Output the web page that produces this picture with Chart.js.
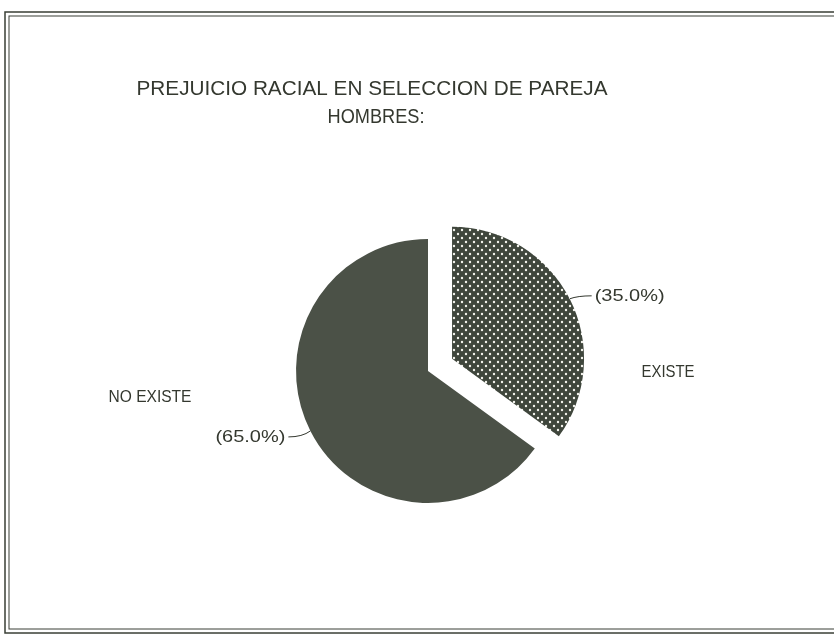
<!DOCTYPE html>
<html>
<head>
<meta charset="utf-8">
<script src="https://cdn.jsdelivr.net/npm/chart.js@4.4.1/dist/chart.umd.min.js"></script>
<style>
  html, body { margin: 0; padding: 0; background: #fff; }
  #wrap { width: 834px; height: 636px; position: relative; }
</style>
</head>
<body>
<div id="wrap"><canvas id="grafico"></canvas></div>
<script>
// ===============================
// DATOS
// ===============================
const categorias = ["EXISTE", "NO EXISTE"];
const porcentajes = [35.0, 65.0];
const separacion = [27, 0]; // sector destacado
const titulo = ["PREJUICIO RACIAL EN SELECCION DE PAREJA", "HOMBRES:"];

const tinta = "#34382f";
const gris = "#4b5147";

// trama de puntos para EXISTE
function crearTrama() {
  const c = document.createElement("canvas");
  c.width = 8;
  c.height = 8;
  const g = c.getContext("2d");
  g.fillStyle = "#3f463c";
  g.fillRect(0, 0, 8, 8);
  g.fillStyle = "#f4f4ee";
  [[2, 2], [6, 6]].forEach(([x, y]) => {
    g.beginPath();
    g.arc(x, y, 1.2, 0, Math.PI * 2);
    g.fill();
  });
  return g.createPattern(c, "repeat");
}

// texto ajustado a un ancho dado (letra de plotter, estrecha)
function texto(ctx, str, cx, cy, size, ancho) {
  ctx.save();
  ctx.font = `${size}px "Liberation Sans", Arial, sans-serif`;
  ctx.textAlign = "center";
  ctx.textBaseline = "middle";
  const w = ctx.measureText(str).width;
  const sx = ancho ? ancho / w : 1;
  ctx.translate(cx, cy);
  ctx.scale(sx, 1);
  ctx.fillStyle = tinta;
  ctx.fillText(str, 0, 0);
  ctx.restore();
}

// ===============================
// PLUGIN: marco, título y rótulos
// ===============================
const anotaciones = {
  id: "anotaciones",
  beforeDraw(chart) {
    const ctx = chart.ctx;
    ctx.save();
    ctx.fillStyle = "#fff";
    ctx.fillRect(0, 0, chart.width, chart.height);
    ctx.strokeStyle = "#3a3f36";
    ctx.lineWidth = 1.5;
    ctx.strokeRect(5, 12, chart.width + 10, 621);
    ctx.lineWidth = 1;
    ctx.strokeRect(9, 16, chart.width + 10, 613);
    ctx.restore();
  },
  // desplaza el sector sin agrandarlo (el offset de Chart.js también cambia el radio)
  beforeDatasetsDraw(chart) {
    chart.getDatasetMeta(0).data.forEach((a, i) => {
      const mid = (a.startAngle + a.endAngle) / 2;
      a.x += Math.cos(mid) * separacion[i];
      a.y += Math.sin(mid) * separacion[i];
    });
  },
  afterDraw(chart) {
    const ctx = chart.ctx;
    texto(ctx, titulo[0], 372, 89, 20, 471);
    texto(ctx, titulo[1], 376, 117, 20, 97);

    const arcos = chart.getDatasetMeta(0).data;
    arcos.forEach((a, i) => {
      const mid = (a.startAngle + a.endAngle) / 2;
      const x0 = a.x + Math.cos(mid) * a.outerRadius;
      const y0 = a.y + Math.sin(mid) * a.outerRadius;
      const lado = Math.cos(mid) >= 0 ? 1 : -1;
      const x1 = x0 + lado * 22;
      const y1 = y0 + (lado > 0 ? -3 : 6);
      ctx.save();
      ctx.strokeStyle = tinta;
      ctx.lineWidth = 1;
      ctx.beginPath();
      ctx.moveTo(x0, y0);
      ctx.quadraticCurveTo(x0 + lado * 8, y1, x1, y1);
      ctx.stroke();
      ctx.restore();
      const etiqueta = `(${porcentajes[i].toFixed(1)}%)`;
      texto(ctx, etiqueta, x1 + lado * 38, y1, 17, 70);
    });

    // nombres de categoría
    const c = arcos[1];
    texto(ctx, categorias[0], c.x + 240, c.y + 1, 17, 53);
    texto(ctx, categorias[1], c.x - 278, c.y + 26, 17, 83);
  },
};

// ===============================
// GRÁFICO
// ===============================
const ctx = document.getElementById("grafico").getContext("2d");
new Chart(ctx, {
  type: "pie",
  data: {
    labels: categorias,
    datasets: [
      {
        data: porcentajes,
        backgroundColor: [crearTrama(), gris],
        borderWidth: 0,
      },
    ],
  },
  options: {
    responsive: true,
    maintainAspectRatio: false,
    animation: false,
    radius: 132,
    layout: { padding: { left: 22, right: 0, top: 106, bottom: 0 } },
    plugins: {
      legend: { display: false },
      tooltip: { enabled: false },
      title: { display: false },
    },
  },
  plugins: [anotaciones],
});
</script>
</body>
</html>
